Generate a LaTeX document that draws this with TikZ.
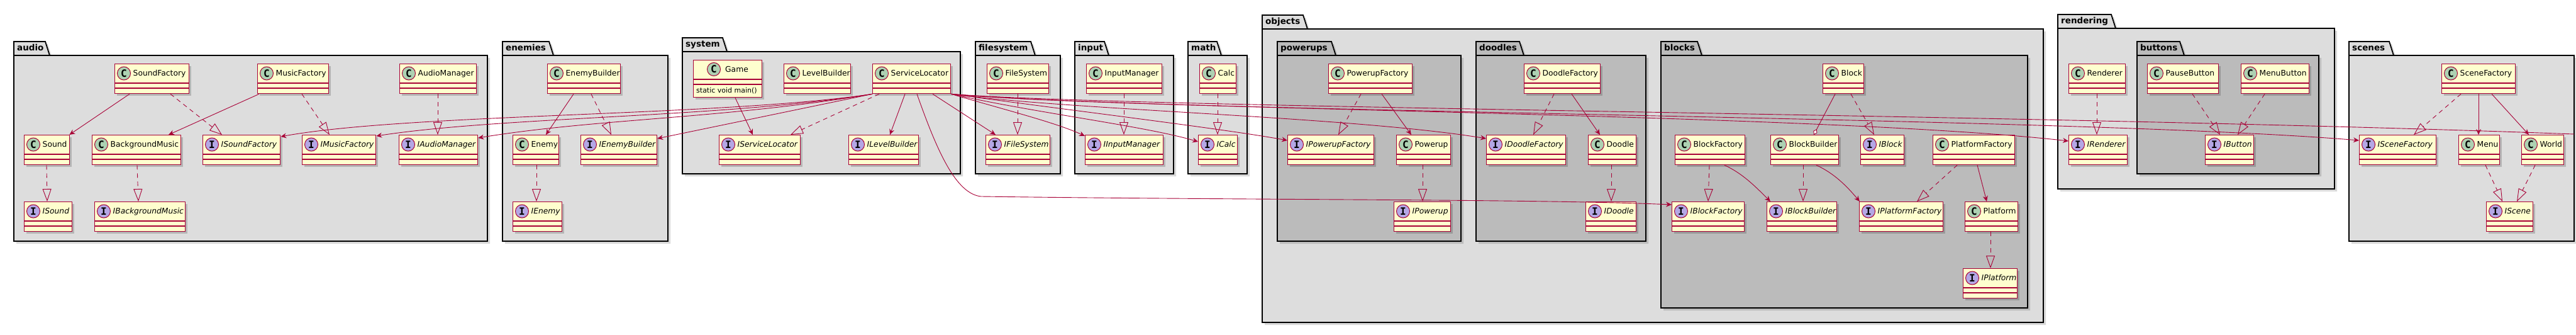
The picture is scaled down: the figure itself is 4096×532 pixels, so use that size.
\documentclass[tikz,border=0pt]{standalone}
\usepackage{fontspec}
\setmainfont{DejaVu Sans}
\newfontfamily\iconfamily{DejaVu Sans Mono}
\usetikzlibrary{arrows.meta,shadows}
\definecolor{umlred}{HTML}{A80036}
\definecolor{umlfill}{HTML}{FEFECE}
\definecolor{iconc}{HTML}{ADD1B2}
\definecolor{iconi}{HTML}{B4A7E5}
\definecolor{pkglight}{HTML}{DDDDDD}
\definecolor{pkgdark}{HTML}{BBBBBB}
\tikzset{
  classbox/.style = {rectangle, draw=umlred, fill=umlfill, line width=1.3pt, minimum height=47pt,
    inner sep=0pt, anchor=north west, drop shadow={shadow xshift=3pt, shadow yshift=-3pt, opacity=.18, fill=black}},
  classrule/.style = {draw=umlred, line width=1.3pt},
  iconC/.style = {circle, draw=umlred, fill=iconc, line width=1pt, minimum size=21pt, inner sep=0pt,
    font=\iconfamily\bfseries\fontsize{16}{16}\selectfont},
  iconI/.style = {iconC, fill=iconi},
  nameC/.style = {anchor=base west, inner sep=0pt, font=\fontsize{12.3}{14}\selectfont},
  nameI/.style = {nameC, font=\fontsize{12.3}{14}\selectfont\itshape},
  pkg/.style = {draw=black, line width=1.8pt, drop shadow={shadow xshift=4pt, shadow yshift=-4pt, opacity=.15, fill=black}},
  pkgline/.style = {draw=black, line width=1.8pt},
  pkgtop/.style = {fill=pkglight},
  pkginner/.style = {fill=pkgdark},
  pkglabel/.style = {anchor=base west, inner sep=0pt, font=\bfseries\fontsize{13.5}{16}\selectfont},
  uses/.style = {draw=umlred, line width=.9pt, -{Stealth[length=9pt,width=8pt,inset=3pt]}},
  realizes/.style = {draw=umlred, line width=.9pt, dash pattern=on 7pt off 6pt, -{Triangle[open,length=20pt,width=14pt]}},
  aggr/.style = {draw=umlred, line width=.9pt, -{Diamond[fill=white,length=10pt,width=7pt]}},
  link/.style = {draw=umlred, line width=.9pt}
}
% #1 name, #2 C or I, #3 left, #4 top, #5 width
\newcommand{\umlclass}[5]{%
  \node[classbox, minimum width=#5pt] (#1) at (#3,#4) {};
  \draw[classrule] ([yshift=-31pt]#1.north west) -- ([yshift=-31pt]#1.north east);
  \draw[classrule] ([yshift=-39pt]#1.north west) -- ([yshift=-39pt]#1.north east);
  \node[icon#2] (#1-c) at ([xshift=15pt,yshift=-15.5pt]#1.north west) {#2};
  \node[name#2] (#1-t) at ([xshift=29.5pt,yshift=-19.5pt]#1.north west) {#1};
}
% #1 name, #2 left, #3 tab top, #4 tab right, #5 right, #6 bottom, #7 fill
\newcommand{\umlpkg}[7]{%
  \path[pkg, #7] (#2,#3) -- ({#4-7},#3) -- (#4,{#3+22}) -- (#5,{#3+22}) -- (#5,#6) -- (#2,#6) -- cycle;
  \draw[pkgline] (#2,{#3+22}) -- (#4,{#3+22});
  \node[pkglabel] (#1) at ({#2+5},{#3+15}) {#1};
}
\begin{document}
\begin{tikzpicture}[x=1pt, y=-1pt]
\useasboundingbox (0,0) rectangle (4096,532);

\umlpkg{audio}{22}{66}{79}{775}{383}{pkgtop}
\umlpkg{enemies}{799}{66}{880}{1062}{383}{pkgtop}
\umlpkg{system}{1085}{60}{1156}{1527}{276}{pkgtop}
\umlpkg{filesystem}{1551}{66}{1646}{1686}{276}{pkgtop}
\umlpkg{input}{1709}{66}{1763}{1866}{276}{pkgtop}
\umlpkg{math}{1889}{66}{1942}{1983}{276}{pkgtop}
\umlpkg{objects}{2007}{24}{2079}{3249}{512}{pkgtop}
\umlpkg{powerups}{2031}{66}{2124}{2323}{383}{pkginner}
\umlpkg{doodles}{2347}{66}{2423}{2617}{383}{pkginner}
\umlpkg{blocks}{2641}{66}{2706}{3224}{489}{pkginner}
\umlpkg{rendering}{3272}{23}{3364}{3712}{300}{pkgtop}
\umlpkg{buttons}{3398}{66}{3473}{3687}{276}{pkginner}
\umlpkg{scenes}{3735}{66}{3806}{4093}{383}{pkgtop}

\umlclass{SoundFactory}{C}{182}{101}{118}
\umlclass{MusicFactory}{C}{409}{101}{113}
\umlclass{AudioManager}{C}{635}{101}{122}
\umlclass{Sound}{C}{38}{214}{72}
\umlclass{BackgroundMusic}{C}{146}{214}{141}
\umlclass{ISoundFactory}{I}{322}{214}{123}
\umlclass{IMusicFactory}{I}{480}{214}{117}
\umlclass{IAudioManager}{I}{634}{214}{125}
\umlclass{ISound}{I}{38}{320}{76}
\umlclass{IBackgroundMusic}{I}{150}{320}{144}

\umlclass{EnemyBuilder}{C}{870}{101}{116}
\umlclass{Enemy}{C}{815}{214}{73}
\umlclass{IEnemyBuilder}{I}{923}{214}{121}
\umlclass{IEnemy}{I}{815}{320}{78}

\node[classbox, minimum width=109pt, minimum height=59pt] (Game) at (1102,95) {};
\draw[classrule] ([yshift=-31pt]Game.north west) -- ([yshift=-31pt]Game.north east);
\draw[classrule] ([yshift=-39pt]Game.north west) -- ([yshift=-39pt]Game.north east);
\node[iconC] (Game-c) at ([xshift=33pt,yshift=-15pt]Game.north west) {C};
\node[nameC] (Game-t) at ([xshift=51pt,yshift=-19.5pt]Game.north west) {Game};
\node[anchor=base west, inner sep=0pt, font=\fontsize{11}{13}\selectfont] (Game-m)
  at ([xshift=5pt,yshift=-52pt]Game.north west) {static void main()};
\umlclass{LevelBuilder}{C}{1246}{101}{106}
\umlclass{ServiceLocator}{C}{1387}{101}{124}
\umlclass{IServiceLocator}{I}{1143}{214}{129}
\umlclass{ILevelBuilder}{I}{1349}{214}{111}

\umlclass{FileSystem}{C}{1569}{101}{98}
\umlclass{IFileSystem}{I}{1567}{214}{102}
\umlclass{InputManager}{C}{1727}{101}{120}
\umlclass{IInputManager}{I}{1725}{214}{124}
\umlclass{Calc}{C}{1907}{101}{58}
\umlclass{ICalc}{I}{1905}{214}{62}

\umlclass{PowerupFactory}{C}{2112}{101}{133}
\umlclass{IPowerupFactory}{I}{2047}{214}{137}
\umlclass{Powerup}{C}{2220}{214}{86}
\umlclass{IPowerup}{I}{2216}{320}{90}
\umlclass{DoodleFactory}{C}{2423}{101}{121}
\umlclass{IDoodleFactory}{I}{2363}{214}{126}
\umlclass{Doodle}{C}{2525}{214}{76}
\umlclass{IDoodle}{I}{2521}{320}{80}
\umlclass{Block}{C}{2898}{101}{65}
\umlclass{BlockFactory}{C}{2663}{214}{111}
\umlclass{BlockBuilder}{C}{2815}{214}{108}
\umlclass{IBlock}{I}{2958}{214}{69}
\umlclass{PlatformFactory}{C}{3073}{214}{130}
\umlclass{IBlockFactory}{I}{2658}{320}{115}
\umlclass{IBlockBuilder}{I}{2809}{320}{111}
\umlclass{IPlatformFactory}{I}{2956}{320}{133}
\umlclass{Platform}{C}{3124}{320}{84}
\umlclass{IPlatform}{I}{3121}{426}{86}

\umlclass{Renderer}{C}{3289}{101}{90}
\umlclass{IRenderer}{I}{3289}{214}{93}
\umlclass{PauseButton}{C}{3414}{101}{113}
\umlclass{MenuButton}{C}{3563}{101}{108}
\umlclass{IButton}{I}{3506}{214}{77}

\umlclass{SceneFactory}{C}{3882}{101}{117}
\umlclass{ISceneFactory}{I}{3751}{214}{122}
\umlclass{Menu}{C}{3909}{214}{65}
\umlclass{World}{C}{4009}{214}{67}
\umlclass{IScene}{I}{3953}{320}{74}

\coordinate (farend) at (4093,213);

\draw[uses] ([xshift=24pt]SoundFactory.south west) -- ([xshift=-1pt]Sound.north east);
\draw[realizes] ([xshift=89pt]SoundFactory.south west) -- ([xshift=31pt]ISoundFactory.north west);
\draw[uses] ([xshift=3pt]MusicFactory.south west) -- ([xshift=122pt]BackgroundMusic.north west);
\draw[realizes] ([xshift=71pt]MusicFactory.south west) -- ([xshift=44pt]IMusicFactory.north west);
\draw[realizes] ([xshift=61pt]AudioManager.south west) -- ([xshift=62pt]IAudioManager.north west);
\draw[realizes] ([xshift=36pt]Sound.south west) -- ([xshift=37pt]ISound.north west);
\draw[realizes] ([xshift=72pt]BackgroundMusic.south west) -- ([xshift=70pt]IBackgroundMusic.north west);

\draw[uses] ([xshift=42pt]EnemyBuilder.south west) -- ([xshift=53pt]Enemy.north west);
\draw[realizes] ([xshift=70pt]EnemyBuilder.south west) -- ([xshift=49pt]IEnemyBuilder.north west);
\draw[realizes] ([xshift=38pt]Enemy.south west) -- ([xshift=38pt]IEnemy.north west);

\draw[uses] ([xshift=67pt]Game.south west) -- ([xshift=54pt]IServiceLocator.north west);
\draw[realizes] ([xshift=11pt]ServiceLocator.south west) -- ([xshift=114pt]IServiceLocator.north west);
\draw[uses] ([xshift=52pt]ServiceLocator.south west) -- ([xshift=66pt]ILevelBuilder.north west);

\draw[realizes] ([xshift=49pt]FileSystem.south west) -- ([xshift=51pt]IFileSystem.north west);
\draw[realizes] ([xshift=60pt]InputManager.south west) -- ([xshift=62pt]IInputManager.north west);
\draw[realizes] ([xshift=29pt]Calc.south west) -- ([xshift=31pt]ICalc.north west);

\draw[realizes] ([xshift=52pt]PowerupFactory.south west) -- ([xshift=81pt]IPowerupFactory.north west);
\draw[uses] ([xshift=85pt]PowerupFactory.south west) -- ([xshift=24pt]Powerup.north west);
\draw[realizes] ([xshift=42pt]Powerup.south west) -- ([xshift=46pt]IPowerup.north west);
\draw[realizes] ([xshift=48pt]DoodleFactory.south west) -- ([xshift=75pt]IDoodleFactory.north west);
\draw[uses] ([xshift=76pt]DoodleFactory.south west) -- ([xshift=19pt]Doodle.north west);
\draw[realizes] ([xshift=37pt]Doodle.south west) -- ([xshift=41pt]IDoodle.north west);

\draw[aggr] ([xshift=20pt]Block.south west) -- ([xshift=69pt]BlockBuilder.north west);
\draw[realizes] ([xshift=45pt]Block.south west) -- ([xshift=22pt]IBlock.north west);
\draw[realizes] ([xshift=55pt]BlockFactory.south west) -- ([xshift=58pt]IBlockFactory.north west);
\draw[uses] ([xshift=79pt]BlockFactory.south west) .. controls (2770,275) and (2790,295) .. ([xshift=6pt]IBlockBuilder.north west);
\draw[realizes] ([xshift=52pt]BlockBuilder.south west) -- ([xshift=58pt]IBlockBuilder.north west);
\draw[uses] ([xshift=73pt]BlockBuilder.south west) .. controls (2916,275) and (2936,295) .. ([xshift=1pt]IPlatformFactory.north west);
\draw[realizes] ([xshift=39pt]PlatformFactory.south west) -- ([xshift=92pt]IPlatformFactory.north west);
\draw[uses] ([xshift=71pt]PlatformFactory.south west) -- ([xshift=35pt]Platform.north west);
\draw[realizes] ([xshift=41pt]Platform.south west) -- ([xshift=44pt]IPlatform.north west);

\draw[realizes] ([xshift=45pt]Renderer.south west) -- ([xshift=45pt]IRenderer.north west);
\draw[realizes] ([xshift=72pt]PauseButton.south west) -- ([xshift=24pt]IButton.north west);
\draw[realizes] ([xshift=38pt]MenuButton.south west) -- ([xshift=52pt]IButton.north west);

\draw[realizes] ([xshift=31pt]SceneFactory.south west) -- ([xshift=87pt]ISceneFactory.north west);
\draw[uses] ([xshift=59pt]SceneFactory.south west) -- ([xshift=32pt]Menu.north west);
\draw[uses] ([xshift=80pt]SceneFactory.south west) -- ([xshift=12pt]World.north west);
\draw[realizes] ([xshift=43pt]Menu.south west) -- ([xshift=26pt]IScene.north west);
\draw[realizes] ([xshift=22pt]World.south west) -- ([xshift=49pt]IScene.north west);

\draw[uses] (ServiceLocator.south west) .. controls (1150,185) and (650,180) .. ([yshift=-3pt]ISoundFactory.north east);
\draw[uses] (ServiceLocator.south west) .. controls (1150,187) and (800,185) .. ([yshift=-2pt]IMusicFactory.north east);
\draw[uses] (ServiceLocator.south west) .. controls (1150,189) and (950,188) .. ([yshift=-5pt]IAudioManager.north east);
\draw[uses] (ServiceLocator.south west) -- ([yshift=-6pt]IEnemyBuilder.north east);
\draw[uses] ([xshift=96pt]ServiceLocator.south west) -- ([xshift=16pt]IFileSystem.north west);
\draw[uses] (ServiceLocator.south east) .. controls (1600,175) and (1680,195) .. ([yshift=-2pt]IInputManager.north west);
\draw[uses] (ServiceLocator.south east) .. controls (1650,180) and (1820,200) .. ([yshift=-11pt]ICalc.north west);
\draw[uses] (ServiceLocator.south east) .. controls (1700,175) and (1950,205) .. ([yshift=-9pt]IPowerupFactory.north west);
\draw[uses] (ServiceLocator.south east) .. controls (1700,175) and (2150,185) .. ([yshift=-6pt]IDoodleFactory.north west);
\draw[uses] (ServiceLocator.south east) .. controls (1800,175) and (2900,180) .. ([yshift=-10pt]IRenderer.north west);
\draw[uses] (ServiceLocator.south east) .. controls (1800,178) and (3300,185) .. ([yshift=-9pt]ISceneFactory.north west);
\draw[link] (ServiceLocator.south east) .. controls (1800,172) and (3200,180) .. (farend);
\draw[uses] ([xshift=71pt]ServiceLocator.south west) .. controls (1490,240) and (1520,308) .. (1560,312)
  .. controls (2000,318) and (2450,316) .. ([yshift=-5pt]IBlockFactory.north west);

\end{tikzpicture}
\end{document}
